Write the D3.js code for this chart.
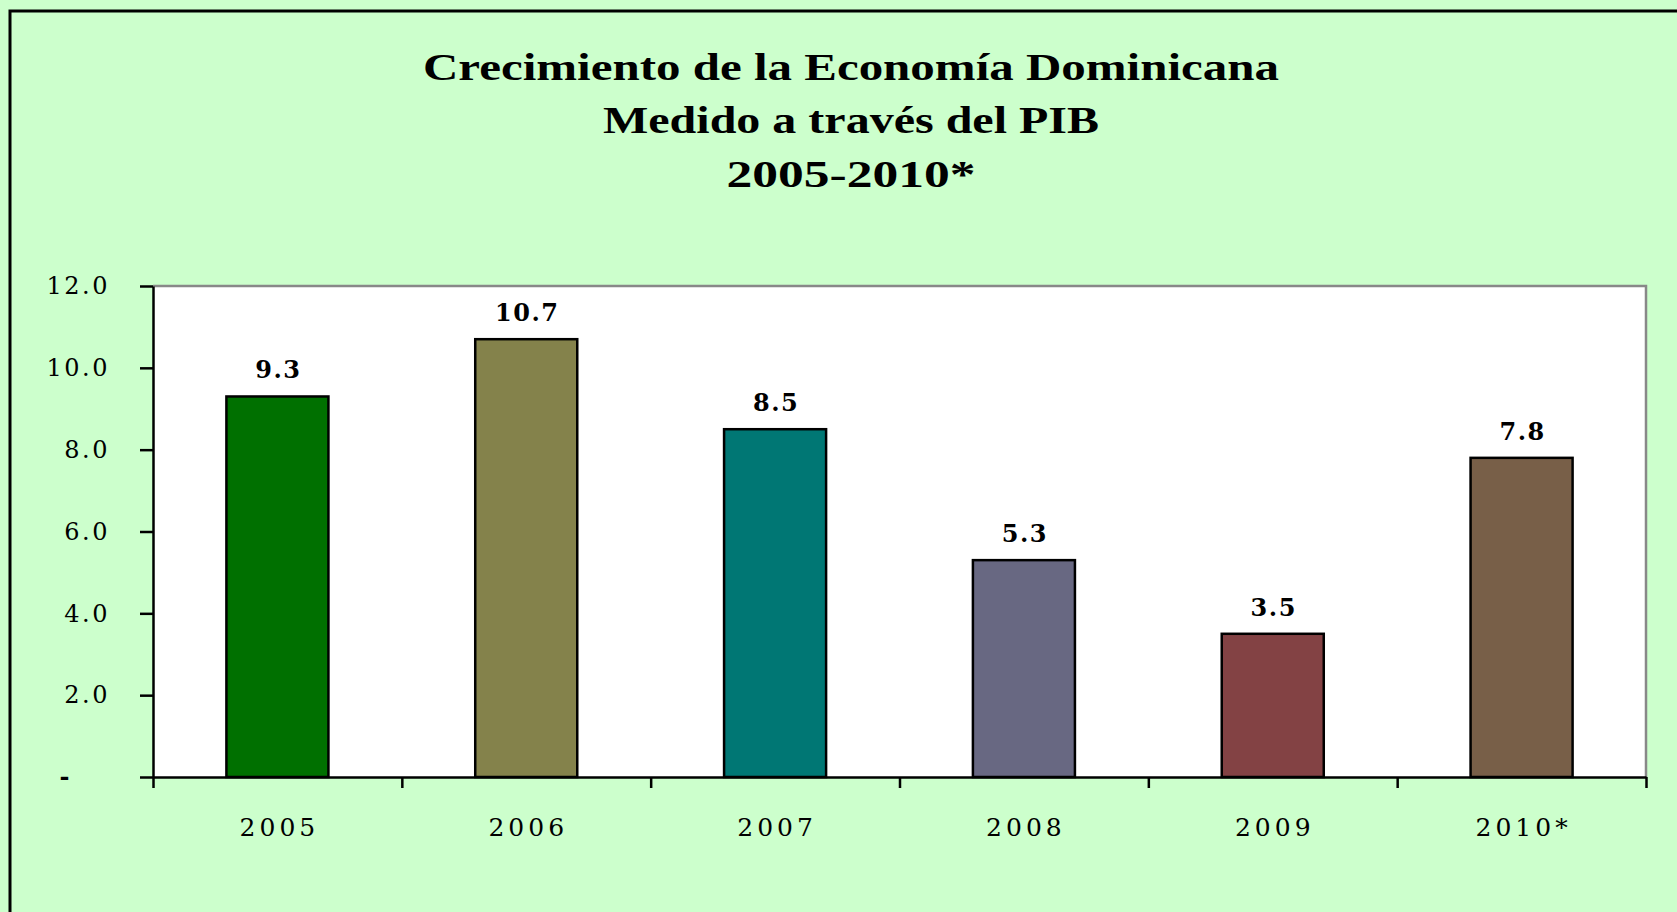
<!DOCTYPE html>
<html>
<head>
<meta charset="utf-8">
<script src="https://cdn.jsdelivr.net/npm/d3@7"></script>
<style>
  body { margin: 0; background: #ccffcc; }
  svg { display: block; }
</style>
</head>
<body>
<svg id="chart"></svg>
<script>
const titleLines = ['Crecimiento de la Economía Dominicana', 'Medido a través del PIB', '2005-2010*'];
const years = ['2005', '2006', '2007', '2008', '2009', '2010*'];
const growth = [9.3, 10.7, 8.5, 5.3, 3.5, 7.8];
const barColors = ['#007000', '#84824b', '#007774', '#686882', '#834244', '#785f48'];
const yTicks = [0, 2, 4, 6, 8, 10, 12];

function drawChart(width, height) {
  const svg = d3.select('#chart').attr('width', width).attr('height', height);
  const plot = { left: 153, right: 1646, top: 286, bottom: 777 };

  // background + frame
  svg.append('rect').attr('width', width).attr('height', height).attr('fill', '#ccffcc');
  svg.append('rect')
    .attr('x', 10).attr('y', 11)
    .attr('width', width + 50).attr('height', height + 50)
    .attr('fill', 'none').attr('stroke', '#000').attr('stroke-width', 3);

  // title
  const titleWidths = [856, 496, 249];
  svg.selectAll('.title')
    .data(titleLines)
    .enter()
    .append('text')
    .classed('title', true)
    .attr('x', 851)
    .attr('y', (d, i) => [80, 133, 187][i])
    .attr('text-anchor', 'middle')
    .attr('font-family', '"Liberation Serif", serif')
    .attr('font-weight', 'bold')
    .attr('font-size', 38)
    .attr('textLength', (d, i) => titleWidths[i])
    .attr('lengthAdjust', 'spacingAndGlyphs')
    .text((d) => d);

  //SCALES
  const x = d3.scaleBand().domain(years).range([plot.left, plot.right])
    .paddingInner(0.59).paddingOuter(0.295);
  const xEdges = d3.scaleLinear().domain([0, years.length]).range([plot.left, plot.right]);
  const y = d3.scaleLinear().domain([0, 12]).range([plot.bottom, plot.top]);

  // plot area
  svg.append('rect')
    .attr('x', plot.left).attr('y', plot.top)
    .attr('width', plot.right - plot.left).attr('height', plot.bottom - plot.top)
    .attr('fill', '#fff');
  svg.append('path')
    .attr('d', `M${plot.left},${plot.top}H${plot.right}V${plot.bottom}`)
    .attr('fill', 'none').attr('stroke', '#888').attr('stroke-width', 2.5);

  // bars
  svg.selectAll('.bar')
    .data(growth)
    .enter()
    .append('rect')
    .classed('bar', true)
    .attr('x', (d, i) => x(years[i]))
    .attr('y', (d) => y(d))
    .attr('width', x.bandwidth())
    .attr('height', (d) => y(0) - y(d))
    .attr('fill', (d, i) => barColors[i])
    .attr('stroke', '#000')
    .attr('stroke-width', 2.5);

  svg.selectAll('.value')
    .data(growth)
    .enter()
    .append('text')
    .classed('value', true)
    .attr('x', (d, i) => x(years[i]) + x.bandwidth() / 2 + 1)
    .attr('y', (d) => y(d) - 18)
    .attr('text-anchor', 'middle')
    .attr('font-family', '"DejaVu Serif", serif')
    .attr('font-weight', 'bold')
    .attr('font-size', 24)
    .attr('letter-spacing', 1.5)
    .text((d) => d.toFixed(1));

  //AXES
  const yAxis = svg.append('g')
    .attr('transform', `translate(${plot.left},0)`)
    .call(d3.axisLeft(y).tickValues(yTicks).tickSize(13).tickSizeOuter(0).tickPadding(30)
      .tickFormat((d) => (d === 0 ? '-' : d.toFixed(1))));
  yAxis.selectAll('text')
    .attr('font-family', '"DejaVu Serif", serif')
    .attr('font-size', 24)
    .attr('letter-spacing', 2.5)
    .attr('fill', '#000')
    .filter((d) => d === 0)
    .attr('font-weight', 'bold')
    .attr('dx', -38);

  const xAxis = svg.append('g')
    .attr('transform', `translate(0,${plot.bottom})`)
    .call(d3.axisBottom(xEdges).tickValues(d3.range(years.length + 1)).tickSize(11)
      .tickSizeOuter(0).tickFormat(''));

  const xLabels = svg.append('g')
    .attr('transform', `translate(0,${plot.bottom})`)
    .call(d3.axisBottom(x).tickSize(0).tickPadding(41));
  xLabels.select('.domain').remove();
  xLabels.selectAll('text')
    .attr('font-family', '"DejaVu Serif", serif')
    .attr('font-size', 25)
    .attr('letter-spacing', 4)
    .attr('dx', 2)
    .attr('fill', '#000');

  [yAxis, xAxis].forEach((g) => {
    g.selectAll('line').attr('stroke', '#000').attr('stroke-width', 2.5);
    g.select('.domain').attr('stroke', '#000').attr('stroke-width', 2.5);
  });
}

drawChart(1677, 912);
</script>
</body>
</html>
